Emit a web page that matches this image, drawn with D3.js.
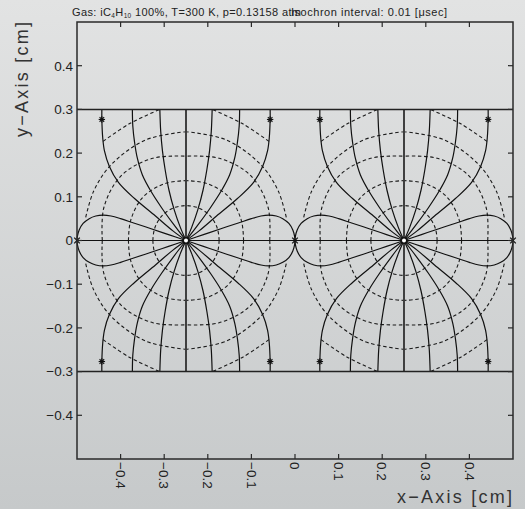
<!DOCTYPE html>
<html><head><meta charset="utf-8">
<script src="https://cdn.jsdelivr.net/npm/d3@7"></script>
<style>html,body{margin:0;padding:0;background:#d5d7d8;} svg{display:block;}</style>
</head><body>
<svg id="chart" width="525" height="509"></svg>
<script>
// ---------- data (cm) ----------
const wireX = [-0.25, 0.25];
const wireY = 0;
const planeY = [-0.3, 0.3];
const saddleX = [-0.5, 0, 0.5];
const xTicks = [-0.4, -0.3, -0.2, -0.1, 0, 0.1, 0.2, 0.3, 0.4];
const xTickLabels = ["\u22120.4", "\u22120.3", "\u22120.2", "\u22120.1", "0", "0.1", "0.2", "0.3", "0.4"];
const yTicks = [0.4, 0.3, 0.2, 0.1, 0, -0.1, -0.2, -0.3, -0.4];
const yTickLabels = ["0.4", "0.3", "0.2", "0.1", "0", "\u22120.1", "\u22120.2", "\u22120.3", "\u22120.4"];

// drift lines of one quadrant (upper-left of a wire), offsets [dx, dy] from the wire
const driftA = [[-0.193,0.300],[-0.193,0.277],[-0.191,0.235],[-0.187,0.205],[-0.176,0.170],[-0.155,0.133],[-0.118,0.096],[-0.070,0.056],[-0.030,0.022],[0,0]];
const driftB = [[-0.123,0.300],[-0.122,0.262],[-0.118,0.225],[-0.112,0.190],[-0.100,0.150],[-0.080,0.112],[-0.056,0.075],[-0.030,0.039],[0,0]];
const driftC = [[-0.060,0.300],[-0.058,0.250],[-0.054,0.205],[-0.048,0.163],[-0.039,0.115],[-0.027,0.070],[-0.013,0.030],[0,0]];
const driftLoop = [[0,0],[-0.040,0.0135],[-0.080,0.027],[-0.120,0.040],[-0.150,0.050],[-0.172,0.056],[-0.190,0.058],[-0.207,0.056],[-0.222,0.050],[-0.236,0.039],[-0.245,0.024],[-0.249,0.010],[-0.250,0]];
const driftVertical = [[0,0.3],[0,0]];
const starOffset = [-0.193, 0.277];

// isochrones of one quadrant: [angle in degrees from the -x direction, radius cm]
const iso1 = [[0,0.076],[20,0.077],[45,0.079],[70,0.080],[90,0.080]];
const iso2 = [[0,0.132],[20,0.135],[45,0.140],[70,0.139],[90,0.137]];
const iso3 = [[0,0.192],[22,0.203],[45,0.210],[68,0.203],[90,0.193]];
const iso4 = [[13,0.236],[28,0.240],[45,0.244],[68,0.248],[90,0.249]];
const iso5 = [[50,0.296],[64,0.297],[78.7,0.306]];
const isochrones = [iso1, iso2, iso3, iso4, iso5];

const quadrants = [[1,1],[-1,1],[1,-1],[-1,-1]];

// ---------- drawing ----------
const W = 525, H = 509;
const svg = d3.select("#chart");
const x = d3.scaleLinear().domain([-0.5, 0.5]).range([77, 513]);
const y = d3.scaleLinear().domain([-0.5, 0.5]).range([459, 22]);

const defs = svg.append("defs");
const grad = defs.append("linearGradient").attr("id","bg").attr("x1",0).attr("y1",0).attr("x2",0).attr("y2",1);
grad.append("stop").attr("offset","0%").attr("stop-color","#e2e3e3");
grad.append("stop").attr("offset","100%").attr("stop-color","#c6c9ca");
svg.append("rect").attr("width",W).attr("height",H).attr("fill","url(#bg)");

const plot = svg.append("g");
const line = d3.line().x(d => x(d[0])).y(d => y(d[1])).curve(d3.curveCatmullRom.alpha(0.5));
const straight = d3.line().x(d => x(d[0])).y(d => y(d[1]));

// isochrones
wireX.forEach(wx => {
  quadrants.forEach(([sx, sy]) => {
    isochrones.forEach(iso => {
      const pts = iso.map(([a, r]) => {
        const t = a * Math.PI / 180;
        return [wx + sx * (-r * Math.cos(t)), wireY + sy * (r * Math.sin(t))];
      });
      plot.append("path").attr("d", line(pts)).attr("fill","none")
        .attr("stroke","#1a1a1a").attr("stroke-width",1.1).attr("stroke-dasharray","3.5,2.6");
    });
  });
});

// drift lines
wireX.forEach(wx => {
  quadrants.forEach(([sx, sy]) => {
    [driftA, driftB, driftC, driftLoop].forEach(dl => {
      const pts = dl.map(([dx, dy]) => [wx + sx * dx, wireY + sy * dy]);
      plot.append("path").attr("d", line(pts)).attr("fill","none")
        .attr("stroke","#111").attr("stroke-width",1.2);
    });
    const vp = driftVertical.map(([dx, dy]) => [wx + sx * dx, wireY + sy * dy]);
    plot.append("path").attr("d", straight(vp)).attr("fill","none")
      .attr("stroke","#3a3a3a").attr("stroke-width",1.6);
  });
});
// horizontal drift line along y = 0
plot.append("path").attr("d", straight([[-0.5,0],[0.5,0]])).attr("fill","none")
  .attr("stroke","#111").attr("stroke-width",1.2);

// planes
planeY.forEach(py => {
  plot.append("path").attr("d", straight([[-0.5,py],[0.5,py]])).attr("fill","none")
    .attr("stroke","#222").attr("stroke-width",1.5);
});

// star markers
wireX.forEach(wx => {
  quadrants.forEach(([sx, sy]) => {
    const cx = x(wx + sx * starOffset[0]), cy = y(wireY + sy * starOffset[1]);
    const g = plot.append("g").attr("stroke","#111").attr("stroke-width",1.1);
    const s = 3.2;
    g.append("line").attr("x1",cx-s).attr("x2",cx+s).attr("y1",cy).attr("y2",cy);
    g.append("line").attr("x1",cx).attr("x2",cx).attr("y1",cy-s).attr("y2",cy+s);
    g.append("line").attr("x1",cx-s*0.72).attr("x2",cx+s*0.72).attr("y1",cy-s*0.72).attr("y2",cy+s*0.72);
    g.append("line").attr("x1",cx-s*0.72).attr("x2",cx+s*0.72).attr("y1",cy+s*0.72).attr("y2",cy-s*0.72);
  });
});
// saddle x markers
saddleX.forEach(sxv => {
  const cx = x(sxv), cy = y(0), s = 2.8;
  const g = plot.append("g").attr("stroke","#111").attr("stroke-width",1.2);
  g.append("line").attr("x1",cx-s).attr("x2",cx+s).attr("y1",cy-s).attr("y2",cy+s);
  g.append("line").attr("x1",cx-s).attr("x2",cx+s).attr("y1",cy+s).attr("y2",cy-s);
});
// wires
wireX.forEach(wx => {
  plot.append("circle").attr("cx", x(wx)).attr("cy", y(wireY)).attr("r", 2.8)
    .attr("fill","#fff").attr("stroke","#111").attr("stroke-width",1.6);
});

// frame and ticks
const axisColor = "#2a2a2a";
svg.append("rect").attr("x", x(-0.5)).attr("y", y(0.5)).attr("width", x(0.5)-x(-0.5)).attr("height", y(-0.5)-y(0.5))
  .attr("fill","none").attr("stroke",axisColor).attr("stroke-width",1.5);
const tl = 5;
const ticksG = svg.append("g").attr("stroke",axisColor).attr("stroke-width",1.2);
xTicks.forEach(v => {
  ticksG.append("line").attr("x1",x(v)).attr("x2",x(v)).attr("y1",y(-0.5)).attr("y2",y(-0.5)-tl);
  ticksG.append("line").attr("x1",x(v)).attr("x2",x(v)).attr("y1",y(0.5)).attr("y2",y(0.5)+tl);
});
yTicks.forEach(v => {
  ticksG.append("line").attr("x1",x(-0.5)).attr("x2",x(-0.5)+tl).attr("y1",y(v)).attr("y2",y(v));
  ticksG.append("line").attr("x1",x(0.5)).attr("x2",x(0.5)-tl).attr("y1",y(v)).attr("y2",y(v));
});

const font = "'Liberation Sans', Arial, sans-serif";
const txtColor = "#222";
// y tick labels
yTicks.forEach((v, i) => {
  svg.append("text").attr("x", x(-0.5) - 4).attr("y", y(v)).attr("dy","0.36em")
    .attr("text-anchor","end").attr("font-family",font).attr("font-size",13.5).attr("fill",txtColor)
    .text(yTickLabels[i]);
});
// x tick labels (rotated)
xTicks.forEach((v, i) => {
  svg.append("text").attr("transform", `translate(${x(v)},${y(-0.5)+3}) rotate(90)`)
    .attr("dy","0.36em").attr("text-anchor","start").attr("font-family",font).attr("font-size",13.5).attr("fill",txtColor)
    .text(xTickLabels[i]);
});
// axis titles
svg.append("text").attr("x", 512).attr("y", 503).attr("text-anchor","end")
  .attr("font-family",font).attr("font-size",18).attr("fill","#333")
  .attr("textLength",115).attr("lengthAdjust","spacing").text("x\u2212Axis [cm]");
svg.append("text").attr("transform","translate(28,22) rotate(-90)").attr("text-anchor","end")
  .attr("font-family",font).attr("font-size",18).attr("fill","#333")
  .attr("textLength",115).attr("lengthAdjust","spacing").text("y\u2212Axis [cm]");

// header
const h1 = svg.append("text").attr("x",72).attr("y",16).attr("font-family",font).attr("font-size",11).attr("fill","#222")
  .attr("textLength",229).attr("lengthAdjust","spacing");
h1.append("tspan").text("Gas: iC");
h1.append("tspan").attr("font-size",6.5).attr("dy",2).text("4");
h1.append("tspan").attr("dy",-2).text("H");
h1.append("tspan").attr("font-size",6.5).attr("dy",2).text("10");
h1.append("tspan").attr("dy",-2).text(" 100%, T=300 K, p=0.13158 atm");
svg.append("text").attr("x",291).attr("y",16).attr("font-family",font).attr("font-size",11).attr("fill","#222")
  .attr("textLength",156).attr("lengthAdjust","spacing").text("Isochron interval: 0.01 [\u03bcsec]");
</script>
</body></html>
